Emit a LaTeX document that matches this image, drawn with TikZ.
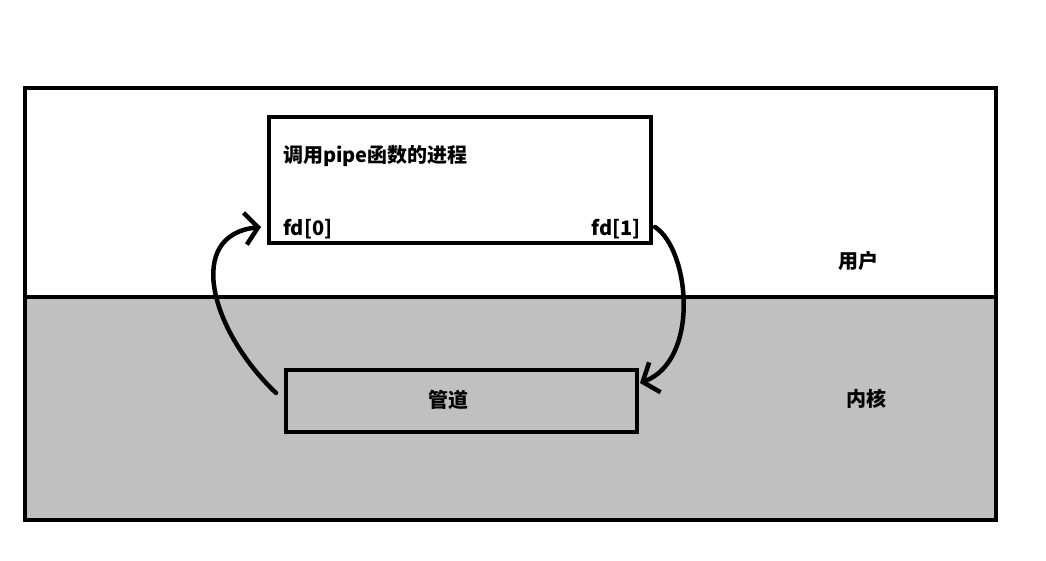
\documentclass[tikz,border=0pt]{standalone}
\usepackage{fontspec}
\setmainfont{Noto Sans CJK SC}
\usepackage{xcolor}
\usepackage{tikz}
\usetikzlibrary{arrows.meta, positioning, calc}
\definecolor{Kernel}{HTML}{C0C0C0}
\definecolor{Ink}{HTML}{000000}

\begin{document}
\begin{tikzpicture}[
        x=1pt,
        y=1pt,
        font=\bfseries\fontsize{20}{23}\selectfont,
        frame/.style={draw=Ink, line width=4pt},
        procbox/.style={frame, fill=white, minimum width=382pt, minimum height=126pt, inner sep=0pt},
        pipebox/.style={frame, fill=Kernel, minimum width=351pt, minimum height=62pt, inner sep=0pt},
        label/.style={text=Ink, inner sep=0pt},
        flow/.style={-{Straight Barb[length=13pt,width=32pt]}, line width=4.5pt, draw=Ink, line cap=round}
      ]
        \useasboundingbox (0,0) rectangle (1046,560);

        % user space and kernel space
        \fill[Kernel] (25,40) rectangle (996,263);
        \draw[frame] (25,40) rectangle (996,472);
        \draw[frame] (25,263) -- (996,263);

        \node[procbox] (proc) at (460,380) {};
        \node[label, anchor=west] (title) at (283,404) {调用pipe函数的进程};
        \node[label, anchor=west] (fdread) at (283,331) {fd[0]};
        \node[label, anchor=east] (fdwrite) at (641,331) {fd[1]};

        \node[pipebox] (pipe) at (461.5,159) {};
        \node[label] (pipename) at (448,160) {管道};

        \node[label] (user) at (858,299) {用户};
        \node[label] (kernel) at (866,161) {内核};

        \draw[flow] ($(pipe.west)+(-8,8)$) .. controls (210,230) and (185,325) .. ($(proc.south west)+(-6,18)$);
        \draw[flow] ($(proc.south east)+(2,18)$) .. controls (690,310) and (700,200) .. ($(pipe.north east)+(1,-15)$);
      \end{tikzpicture}
\end{document}
